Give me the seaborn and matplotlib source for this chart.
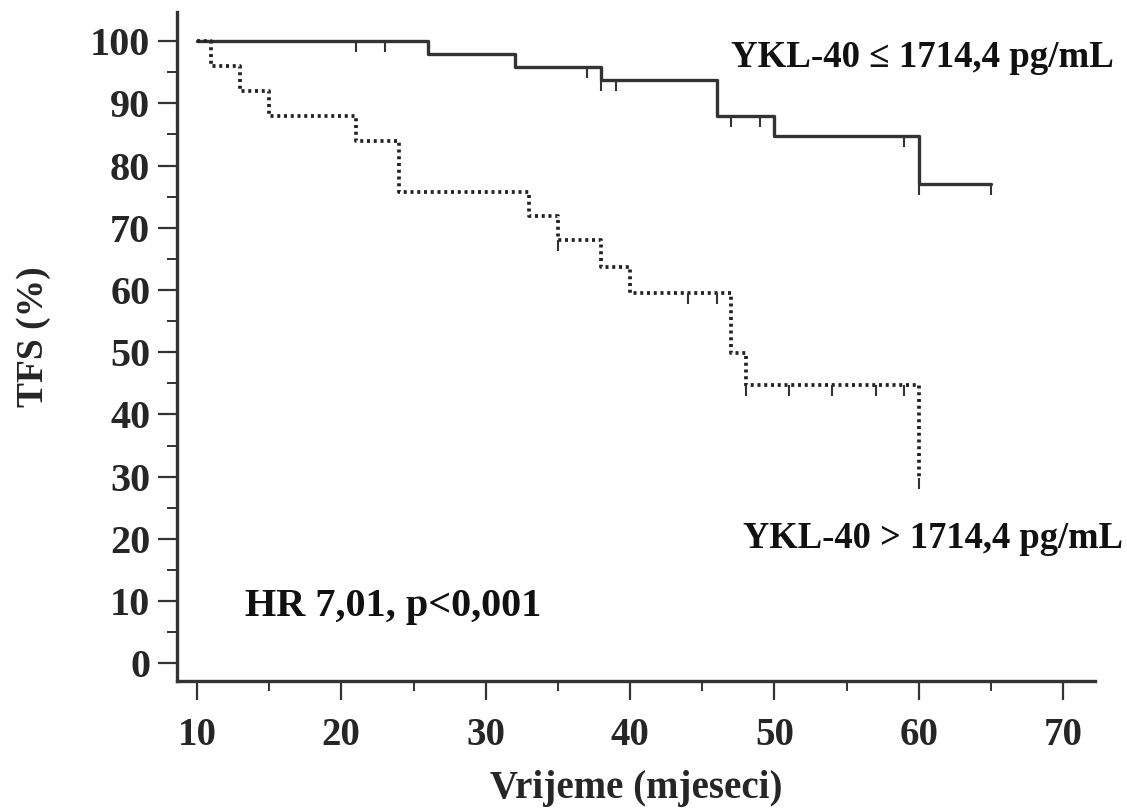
import numpy as np
import pandas as pd
import seaborn as sns
import matplotlib.pyplot as plt
from matplotlib.path import Path
from matplotlib.ticker import MultipleLocator

# podaci ocitani sa slike (Kaplan-Meier krivulje)
low_time = [10, 26, 32, 38, 46, 50, 60, 65]
low_tfs = [100, 97.9, 95.8, 93.7, 88.0, 84.8, 77.1, 77.1]
low_cens_time = [21, 23, 37, 38, 39, 47, 49, 59, 60, 65]
low_cens_tfs = [100, 100, 95.8, 93.7, 93.7, 88.0, 88.0, 84.8, 77.1, 77.1]

high_time = [10, 11, 13, 15, 21, 24, 33, 35, 38, 40, 47, 48, 60]
high_tfs = [100, 96, 92, 88, 84, 75.8, 71.9, 68.0, 63.7, 59.5, 49.8, 44.7, 29.8]
high_cens_time = [35, 44, 46, 48, 51, 54, 57, 59, 60]
high_cens_tfs = [68.0, 59.5, 59.5, 44.7, 44.7, 44.7, 44.7, 44.7, 29.8]

label_low = "YKL-40 \u2264 1714,4 pg/mL"
label_high = "YKL-40 > 1714,4 pg/mL"
hr_text = "HR 7,01, p<0,001"

sns.set_theme(style="ticks")
plt.rcParams["font.family"] = ["Liberation Serif", "DejaVu Serif"]
plt.rcParams["font.weight"] = "bold"

fig = plt.figure(figsize=(11.27, 8.09), dpi=100)
ax = fig.add_axes([0.1568, 0.1586, 0.8148, 0.826])

df_low = pd.DataFrame({"t": low_time, "s": low_tfs})
df_high = pd.DataFrame({"t": high_time, "s": high_tfs})

sns.lineplot(data=df_low, x="t", y="s", ax=ax, estimator=None, sort=False,
             drawstyle="steps-post", color="#333333", linewidth=2.4)
sns.lineplot(data=df_high, x="t", y="s", ax=ax, estimator=None, sort=False,
             drawstyle="steps-post", color="#222222", linewidth=2.7,
             linestyle=(0, (0.8, 1.0)))

# cenzurirani podaci - kratke crtice prema dolje
cens_marker = Path([(0, 0), (0, -1)], [Path.MOVETO, Path.LINETO])
ax.plot(low_cens_time, low_cens_tfs, linestyle="none", marker=cens_marker,
        markersize=16, markeredgewidth=1.5, color="#333333", fillstyle="none")
ax.plot(high_cens_time, high_cens_tfs, linestyle="none", marker=cens_marker,
        markersize=16, markeredgewidth=1.5, color="#333333", fillstyle="none")

ax.set_xlim(8.6, 72.2)
ax.set_ylim(-2.8, 104.6)
ax.xaxis.set_major_locator(MultipleLocator(10))
ax.xaxis.set_minor_locator(MultipleLocator(5))
ax.yaxis.set_major_locator(MultipleLocator(10))
ax.yaxis.set_minor_locator(MultipleLocator(5))

for side in ["top", "right"]:
    ax.spines[side].set_visible(False)
for side in ["left", "bottom"]:
    ax.spines[side].set_linewidth(2.4)
    ax.spines[side].set_color("#333333")

ax.tick_params(which="major", direction="out", length=14, width=1.6,
               color="#333333")
ax.tick_params(which="minor", direction="out", length=7, width=1.4,
               color="#333333")
ax.tick_params(axis="y", which="major", pad=5, labelsize=29)
ax.tick_params(axis="x", which="major", pad=12, labelsize=28)
for lab in ax.get_xticklabels() + ax.get_yticklabels():
    lab.set_fontweight("bold")

ax.set_xlabel("Vrijeme (mjeseci)", fontsize=28, fontweight="bold", labelpad=12)
ax.set_ylabel("TFS (%)", fontsize=27, fontweight="bold")
ax.yaxis.set_label_coords(-0.137, 0.515)

ax.text(47.0, 95.8, label_low, fontsize=26.6, fontweight="bold", ha="left",
        va="baseline", color="#111111")
ax.text(47.8, 18.55, label_high, fontsize=26.3, fontweight="bold", ha="left",
        va="baseline", color="#111111")
ax.text(13.35, 7.67, hr_text, fontsize=29, fontweight="bold", ha="left",
        va="baseline", color="#111111")

fig.savefig("out.png", dpi=100)
